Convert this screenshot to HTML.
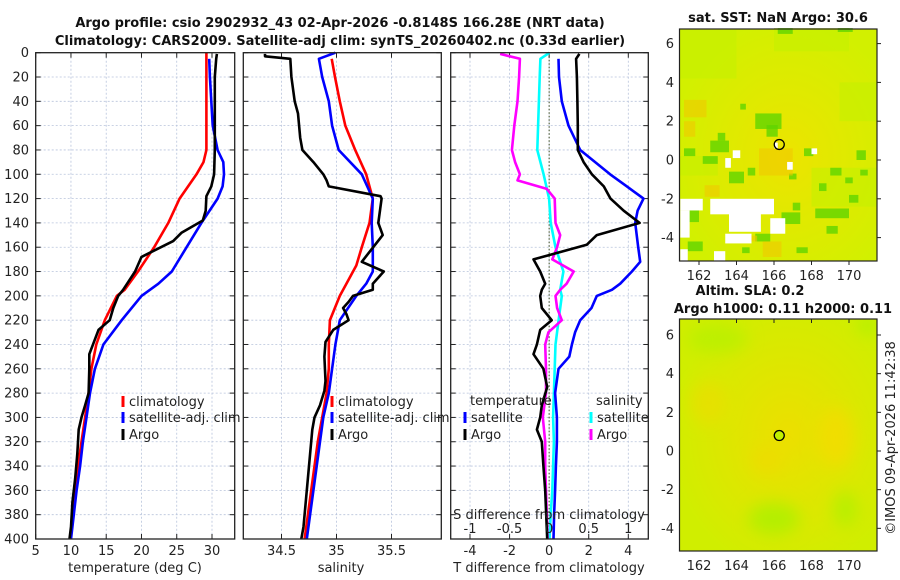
<!DOCTYPE html>
<html><head><meta charset="utf-8"><style>
body{margin:0;background:#fff;}
svg{display:block;font-family:"DejaVu Sans","Liberation Sans",sans-serif;}
</style></head><body>
<svg id="c" width="900" height="580" viewBox="0 0 900 580" xmlns="http://www.w3.org/2000/svg">
<defs>
<radialGradient id="g1" cx="0.55" cy="0.55" r="0.6"><stop offset="0" stop-color="#ece400"/><stop offset="1" stop-color="#d2f000"/></radialGradient>
<radialGradient id="g2" cx="0.55" cy="0.5" r="0.6"><stop offset="0" stop-color="#ecdf00"/><stop offset="1" stop-color="#d0ee00"/></radialGradient>
<filter id="blur" x="-50%" y="-50%" width="200%" height="200%"><feGaussianBlur stdDeviation="8"/></filter>
<clipPath id="clip2"><rect x="679.5" y="319" width="197.5" height="232"/></clipPath>
</defs>
</svg>
<script>
// ---- data ----
const depthTempClim=[0,80,90,100,120,140,160,180,195,200,220,240,260,280,300,320,340,360,380,400];
const tempClim=[29.2,29.2,28.8,27.8,25.4,23.8,21.8,19.5,17.6,16.5,14.8,13.6,12.9,12.5,12.0,11.5,11.0,10.6,10.2,9.9];
const depthTempSat=[5,20,40,60,80,90,100,110,120,140,160,180,190,200,220,240,260,280,300,320,340,360,380,400];
const tempSat=[29.6,29.7,29.9,30.1,30.8,31.6,31.7,31.5,30.8,28.5,26.4,24.3,22.4,20.0,17.2,14.6,13.4,12.7,12.2,11.7,11.3,10.8,10.4,10.0];
const depthTempArgo=[1,5,20,80,100,110,118,130,138,148,155,168,180,195,200,210,220,228,248,260,280,290,300,310,330,350,370,390,400];
const tempArgo=[30.7,30.6,30.4,30.4,30.3,29.9,29.2,29.1,28.7,25.7,24.5,20.0,19.1,17.4,16.7,16.0,15.5,13.9,12.6,12.6,12.5,12.0,11.5,11.1,10.9,10.6,10.2,10.0,9.8];
const depthSalClim=[5,20,40,60,80,100,120,140,160,175,190,200,220,240,260,280,300,320,340,360,380,400];
const salClim=[34.956,34.986,35.03,35.08,35.17,35.27,35.33,35.30,35.23,35.18,35.09,35.03,34.94,34.93,34.93,34.91,34.87,34.83,34.80,34.77,34.74,34.71];
const depthSalSat=[0,5,20,40,60,80,100,120,140,160,180,190,200,220,240,260,280,300,320,340,360,380,400];
const salSat=[34.99,34.84,34.87,34.93,34.96,35.02,35.23,35.33,35.32,35.33,35.33,35.27,35.18,35.03,34.99,34.96,34.93,34.88,34.85,34.82,34.79,34.76,34.73];
const depthSalArgo=[1,3,5,20,40,50,70,80,90,100,105,110,118,120,140,150,165,172,180,190,195,200,205,210,215,220,228,238,250,270,278,290,300,310,330,350,370,390,400];
const salArgo=[34.35,34.35,34.58,34.59,34.62,34.65,34.67,34.69,34.79,34.88,34.91,34.93,35.40,35.41,35.38,35.42,35.29,35.23,35.43,35.33,35.33,35.15,35.11,35.06,35.09,35.11,34.97,34.90,34.89,34.90,34.89,34.85,34.80,34.78,34.76,34.74,34.72,34.70,34.68];
const depthDTSat=[5,20,40,60,80,100,110,120,130,140,160,172,180,190,195,200,210,220,230,240,250,260,280,300,320,340,360,380,400];
const dTSat=[0.47,0.5,0.64,0.98,1.57,3.08,3.93,4.77,4.47,4.35,4.5,4.6,4.18,3.59,3.17,2.41,2.14,1.57,1.31,1.15,1.02,0.47,0.30,0.39,0.39,0.34,0.30,0.25,0.22];
const depthDTArgo=[1,5,20,40,60,80,90,100,110,120,130,140,150,158,170,180,190,195,200,210,220,228,240,248,260,275,290,300,310,320,340,360,380,400];
const dTArgo=[1.53,1.36,1.4,1.43,1.45,1.45,1.74,2.16,2.76,3.10,3.77,4.57,2.41,1.90,-0.79,-0.45,-0.20,-0.37,-0.45,-0.37,0.13,-0.45,-0.62,-0.79,-0.29,-0.1,-0.37,-0.45,-0.62,-0.37,-0.29,-0.2,-0.15,-0.1];
const depthDSSat=[0,5,20,40,60,80,100,120,140,160,180,195,200,220,240,260,280,300,320,340,360,380,400];
const dSSat=[0.004,-0.11,-0.12,-0.13,-0.14,-0.15,-0.07,0,0.02,0.08,0.18,0.14,0.16,0.12,0.08,0.07,0.06,0.05,0.06,0.05,0.04,0.02,0.004];
const depthDSArgo=[1,5,20,40,60,80,90,100,105,112,120,140,150,160,170,180,190,195,200,210,220,230,240,260,280,300,320,340,360,380,400];
const dSArgo=[-0.62,-0.37,-0.38,-0.40,-0.44,-0.47,-0.43,-0.37,-0.40,-0.03,0.07,0.08,0.14,0.10,0.04,0.31,0.22,0.14,0.08,0.10,0.16,-0.01,-0.05,-0.04,-0.04,-0.08,-0.05,-0.05,-0.04,-0.03,-0.02];
const depthTicks=[0,20,40,60,80,100,120,140,160,180,200,220,240,260,280,300,320,340,360,380,400];
const tempTicks=[5,10,15,20,25,30];
const salTicks=[34.5,35,35.5];
const dTTicks=[-4,-2,0,2,4];
const dSTicks=[-1,-0.5,0,0.5,1];
const lonTicks=[162,164,166,168,170];
const latTicks=[-4,-2,0,2,4,6];

// ---- helpers ----
const svg=document.getElementById('c');
const NS='http://www.w3.org/2000/svg';
function mk(tag,attrs,parent){const e=document.createElementNS(NS,tag);for(const k in attrs)e.setAttribute(k,attrs[k]);(parent||svg).appendChild(e);return e;}
function txt(x,y,s,attrs,parent){const e=mk('text',Object.assign({x:x,y:y,'font-size':13,fill:'#222'},attrs||{}),parent);e.textContent=s;return e;}
const Y0=52.7,Y1=539;
const yD=d=>Y0+(d)*(Y1-Y0)/400;
function lin(v0,p0,v1,p1){return v=>p0+(v-v0)*(p1-p0)/(v1-v0);}
const xT=lin(5,35.7,30,212);
const xS=lin(34.5,281.5,35.5,391.5);
const xDT=lin(-4,470,4,628.3);
const xDS=lin(-1,470,1,628.3);

function panel(name){
  const g=mk('g',{});
  
  
  return g;
}
function grid(g,x0,x1,xs){
  depthTicks.forEach(d=>{const y=yD(d);
    if(d>0&&d<400){mk('line',{x1:x0,x2:x1,y1:y,y2:y,stroke:'#b8c4dc','stroke-width':0.8,'stroke-dasharray':'2,2'},g);}
    mk('line',{x1:x0,x2:x0+5,y1:y,y2:y,stroke:'#222'},g);
    mk('line',{x1:x1-5,x2:x1,y1:y,y2:y,stroke:'#222'},g);
  });
  xs.forEach(x=>{if(x>x0+1&&x<x1-1)mk('line',{x1:x,x2:x,y1:Y0,y2:Y1,stroke:'#b8c4dc','stroke-width':0.8,'stroke-dasharray':'2,2'},g);
    mk('line',{x1:x,x2:x,y1:Y1,y2:Y1-5,stroke:'#222'},g);mk('line',{x1:x,x2:x,y1:Y0,y2:Y0+5,stroke:'#222'},g);});
}
function frame(g,x0,x1){mk('rect',{x:x0,y:Y0,width:x1-x0,height:Y1-Y0,fill:'none',stroke:'#222','stroke-width':1.3},g);}
function series(g,ds,vs,sx,color,name){
  const pts=ds.map((d,i)=>sx(vs[i]).toFixed(1)+','+yD(d).toFixed(1)).join(' ');
  const p=mk('polyline',{points:pts,fill:'none',stroke:color,'stroke-width':2.6,'stroke-linejoin':'round'},g);
  
  
}

// titles
const t1=txt(340,27,'Argo profile: csio 2902932_43 02-Apr-2026 -0.8148S 166.28E (NRT data)',{'text-anchor':'middle','font-weight':'bold','fill':'#111'});

const t2=txt(340,45,'Climatology: CARS2009. Satellite-adj clim: synTS_20260402.nc (0.33d earlier)',{'text-anchor':'middle','font-weight':'bold','fill':'#111'});


// panel 1
const g1=panel('temperature-panel');
grid(g1,35.7,234.7,tempTicks.map(xT));
depthTicks.forEach(d=>txt(29,yD(d)+4.5,String(d),{'text-anchor':'end'},g1));
tempTicks.forEach(v=>txt(xT(v),555,String(v),{'text-anchor':'middle'}));
const xl1=txt(135,572,'temperature (deg C)',{'text-anchor':'middle'});
series(g1,depthTempClim,tempClim,xT,'#f00','line-temp-climatology');
series(g1,depthTempSat,tempSat,xT,'#00f','line-temp-satellite');
series(g1,depthTempArgo,tempArgo,xT,'#000','line-temp-argo');
frame(g1,35.7,234.7);

// panel 2
const g2=panel('salinity-panel');
grid(g2,243.3,441.3,salTicks.map(xS));
salTicks.forEach(v=>txt(xS(v),555,String(v),{'text-anchor':'middle'}));
const xl2=txt(341,572,'salinity',{'text-anchor':'middle'});
series(g2,depthSalClim,salClim,xS,'#f00','line-sal-climatology');
series(g2,depthSalSat,salSat,xS,'#00f','line-sal-satellite');
series(g2,depthSalArgo,salArgo,xS,'#000','line-sal-argo');
frame(g2,243.3,441.3);

// panel 3
const g3=panel('difference-panel');
grid(g3,450.7,648.3,dTTicks.map(xDT));
mk('line',{x1:xDT(0),x2:xDT(0),y1:Y0,y2:Y1,stroke:'#3a4a20','stroke-width':1,'stroke-dasharray':'1.5,2'},g3);
dTTicks.forEach(v=>txt(xDT(v),555,String(v),{'text-anchor':'middle'}));
dSTicks.forEach(v=>txt(xDS(v),533,String(v),{'text-anchor':'middle'}));
const xl3=txt(549,572,'T difference from climatology',{'text-anchor':'middle'});
const xl4=txt(549,519,'S difference from climatology',{'text-anchor':'middle'});
series(g3,depthDSSat,dSSat,xDS,'#0ff','line-sdiff-satellite');
series(g3,depthDSArgo,dSArgo,xDS,'#f0f','line-sdiff-argo');
series(g3,depthDTSat,dTSat,xDT,'#00f','line-tdiff-satellite');
series(g3,depthDTArgo,dTArgo,xDT,'#000','line-tdiff-argo');
frame(g3,450.7,648.3);

// legends
function legend(x,y,color,label,name){
  const g=mk('g',{});
  mk('rect',{x:x-1.5,y:y-10,width:3,height:11,fill:color},g);
  txt(x+6,y,label,{},g);
}
legend(123,406,'#f00','climatology','legend-climatology');
legend(123,422,'#00f','satellite-adj. clim','legend-satellite-adj');
legend(123,439,'#000','Argo','legend-argo');
legend(332,406,'#f00','climatology','legend-sal-climatology');
legend(332,422,'#00f','satellite-adj. clim','legend-sal-satellite-adj');
legend(332,439,'#000','Argo','legend-sal-argo');
txt(470,405,'temperature');
legend(465,422,'#00f','satellite','legend-tdiff-satellite');
legend(465,439,'#000','Argo','legend-tdiff-argo');
txt(596,405,'salinity');
legend(591,422,'#0ff','satellite','legend-sdiff-satellite');
legend(591,439,'#f0f','Argo','legend-sdiff-argo');

// ---- maps ----
const mapX0=679.5,mapX1=877;
const lonX=lin(162,699,170,849);
function drawMap(top,bot,fill,name){
  const g=mk('g',{});
  mk('rect',{x:mapX0,y:top,width:mapX1-mapX0,height:bot-top,fill:fill},g);
  return g;
}
// map1 SST
const latY1=lin(0,160,6,43.6);
const m1=drawMap(29,261,'url(#g1)','sst-map');
const lightPatches=[[161,4.2,3,2.5],[166,5.6,4,1.2],[168,-2.4,3.5,2],[161,-0.8,2,1],[169.5,2,2,2]];
lightPatches.forEach(p=>mk('rect',{x:lonX(p[0]),y:latY1(p[1]+p[3]),width:p[2]*18.75,height:p[3]*19.4,fill:'#c4f000',opacity:0.6},m1));
const greenPatches=[[165,1.6,1.4,0.8],[165.6,1.2,0.6,0.6],[162.6,0.4,1.0,0.6],[161.2,0.2,0.6,0.4],[162.2,-0.2,0.8,0.4],[163.6,-1.2,0.8,0.6],[166.4,-3.3,1.0,0.6],[165,-4.2,0.8,0.4],[167.2,-4.8,0.6,0.3],[164.3,-4.8,0.4,0.3],[169,-0.8,0.6,0.4],[167.6,0.2,0.5,0.4],[170.4,0,0.5,0.5],[168.2,-3,1.8,0.5],[161.4,-4.7,0.8,0.5],[164.6,-0.8,0.4,0.4],[166.8,-1,0.4,0.3],[163,1,0.4,0.4],[168.4,-1.6,0.4,0.4],[169.8,-1.2,0.4,0.3],[170.6,-0.8,0.4,0.3],[166.2,6.5,0.8,0.3],[169.4,6.6,0.8,0.2],[161.4,-3.2,0.6,0.6],[167,-2.6,0.4,0.4],[164.2,2.6,0.3,0.3],[168.8,-3.8,0.6,0.4],[170,-2.2,0.5,0.4]];
greenPatches.forEach(p=>mk('rect',{x:lonX(p[0]),y:latY1(p[1]+p[3]),width:p[2]*18.75,height:p[3]*19.4,fill:'#5fd400',opacity:0.8},m1));
const orangePatches=[[165.4,-5.0,1.0,0.8],[162.3,-1.9,0.8,0.6],[161.2,2.2,1.2,0.9],[164.7,-4.2,0.4,0.3],[165.2,-0.8,1.8,1.4],[161.2,1.2,0.6,0.8]];
orangePatches.forEach(p=>mk('rect',{x:lonX(p[0]),y:latY1(p[1]+p[3]),width:p[2]*18.75,height:p[3]*19.4,fill:'#f0c800',opacity:0.6},m1));
const whites=[[161,-2.6,1.2,0.6],[162.6,-2.8,3.4,0.8],[163.6,-3.7,1.7,1.0],[161,-4.0,0.5,1.4],[163.4,-4.3,1.4,0.5],[165.8,-3.8,0.8,0.8],[161,-5.2,0.4,0.6],[162.8,-5.2,0.6,0.5],[163.4,-0.4,0.3,0.5],[163.8,0.1,0.4,0.4],[166.7,-0.5,0.3,0.4],[168,0.3,0.3,0.3],[166.0,0.6,0.2,0.3]];
whites.forEach(p=>mk('rect',{x:lonX(p[0]),y:latY1(p[1]+p[3]),width:p[2]*18.75,height:p[3]*19.4,fill:'#fff'},m1));
mk('rect',{x:mapX0,y:29,width:mapX1-mapX0,height:232,fill:'none',stroke:'#222','stroke-width':1.2},m1);
mk('circle',{cx:lonX(166.28),cy:latY1(0.8),r:5,fill:'none',stroke:'#000','stroke-width':1.3},m1);
latTicks.forEach(v=>{txt(674,latY1(v)+4.5,String(v),{'text-anchor':'end'});mk('line',{x1:mapX1,x2:mapX1+4,y1:latY1(v),y2:latY1(v),stroke:'#222'});});
lonTicks.forEach(v=>{txt(lonX(v),280,String(v),{'text-anchor':'middle'});mk('line',{x1:lonX(v),x2:lonX(v),y1:261,y2:265,stroke:'#222'});});
const mt1=txt(778,22,'sat. SST: NaN Argo: 30.6',{'text-anchor':'middle','font-weight':'bold',fill:'#111'});

// map2 SLA
const latY2=lin(0,451,6,335);
const m2=drawMap(319,551,'url(#g2)','sla-map');
const blobs=mk('g',{'clip-path':'url(#clip2)'},m2);
const bg=mk('g',{filter:'url(#blur)'},blobs);
mk('ellipse',{cx:lonX(169.3),cy:latY2(0.7),rx:18,ry:30,fill:'#f4dc00',opacity:0.8},bg);
mk('ellipse',{cx:lonX(165.6),cy:latY2(-0.5),rx:16,ry:14,fill:'#f2d800',opacity:0.6},bg);
mk('ellipse',{cx:lonX(162.5),cy:latY2(2.5),rx:18,ry:22,fill:'#eedc00',opacity:0.6},bg);
mk('ellipse',{cx:lonX(166),cy:latY2(-3.5),rx:26,ry:16,fill:'#b0f000',opacity:0.9},bg);
mk('ellipse',{cx:lonX(169.8),cy:latY2(-3),rx:12,ry:18,fill:'#b0f000',opacity:0.8},bg);
mk('ellipse',{cx:lonX(163),cy:latY2(5.8),rx:30,ry:14,fill:'#b8f000',opacity:0.8},bg);
mk('ellipse',{cx:lonX(171),cy:latY2(6.5),rx:10,ry:8,fill:'#a8f000',opacity:0.8},bg);
mk('rect',{x:mapX0,y:319,width:mapX1-mapX0,height:232,fill:'none',stroke:'#222','stroke-width':1.2},m2);
mk('circle',{cx:lonX(166.28),cy:latY2(0.8),r:5,fill:'#c0f000',stroke:'#000','stroke-width':1.3},m2);
latTicks.forEach(v=>{txt(674,latY2(v)+4.5,String(v),{'text-anchor':'end'});mk('line',{x1:mapX1,x2:mapX1+4,y1:latY2(v),y2:latY2(v),stroke:'#222'});});
lonTicks.forEach(v=>{txt(lonX(v),570,String(v),{'text-anchor':'middle'});mk('line',{x1:lonX(v),x2:lonX(v),y1:319,y2:323,stroke:'#222'});});
const mt2=txt(750,295,'Altim. SLA: 0.2',{'text-anchor':'middle','font-weight':'bold',fill:'#111'});
const mt3=txt(783,313,'Argo h1000: 0.11 h2000: 0.11',{'text-anchor':'middle','font-weight':'bold',fill:'#111'});
const cp=txt(0,0,'©IMOS 09-Apr-2026 11:42:38',{'text-anchor':'middle',transform:'translate(895,438) rotate(-90)'});

</script>
</body></html>
